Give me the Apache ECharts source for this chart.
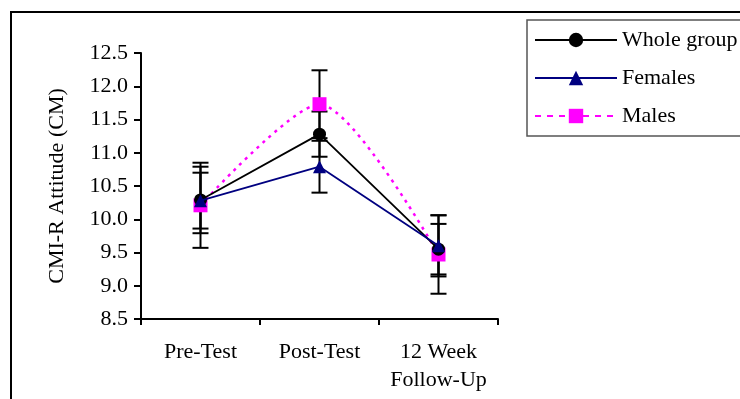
<!DOCTYPE html>
<html>
<head>
<meta charset="utf-8">
<script src="https://cdn.jsdelivr.net/npm/echarts@6/dist/echarts.min.js"></script>
<style>html,body{margin:0;padding:0;background:#fff}#c{width:740px;height:399px}</style>
</head>
<body>
<div id="c"></div>
<script>
const categories = ['Pre-Test', 'Post-Test', '12 Week\nFollow-Up'];
const yTicks = [8.5, 9.0, 9.5, 10.0, 10.5, 11.0, 11.5, 12.0, 12.5];
const wholeMean = [10.29, 11.28, 9.55];
const wholeErr = [0.50, 0.34, 0.38];
const femaleMean = [10.28, 10.79, 9.60];
const femaleErr = [0.42, 0.39, 0.46];
const maleMean = [10.21, 11.73, 9.47];
const maleErr = [0.64, 0.51, 0.59];

const FONT = 'Liberation Serif';
const FS = 22;

function errData(mean, err) {
  return mean.map((m, i) => [i, m - err[i], m + err[i]]);
}
function errSeries(mean, err) {
  return {
    type: 'custom',
    z: 1,
    silent: true,
    data: errData(mean, err),
    encode: { x: 0, y: [1, 2] },
    renderItem: function (params, api) {
      const x = api.value(0);
      const lo = api.coord([x, api.value(1)]);
      const hi = api.coord([x, api.value(2)]);
      const hw = 8;
      const st = { stroke: '#000', lineWidth: 2 };
      return {
        type: 'group',
        children: [
          { type: 'line', shape: { x1: lo[0], y1: lo[1], x2: hi[0], y2: hi[1] }, style: st },
          { type: 'line', shape: { x1: lo[0] - hw, y1: lo[1], x2: lo[0] + hw, y2: lo[1] }, style: st },
          { type: 'line', shape: { x1: hi[0] - hw, y1: hi[1], x2: hi[0] + hw, y2: hi[1] }, style: st }
        ]
      };
    }
  };
}

const chart = echarts.init(document.getElementById('c'));
chart.setOption({
  animation: false,
  backgroundColor: '#fff',
  textStyle: { fontFamily: FONT },
  graphic: [
    { type: 'rect', shape: { x: 11, y: 12, width: 740, height: 400 }, style: { fill: 'none', stroke: '#000', lineWidth: 2 }, z: -10 }
  ],
  grid: { left: 141, right: 242, top: 53, bottom: 80 },
  legend: {
    orient: 'vertical',
    left: 527,
    top: 20,
    padding: [9, 40, 9, 7],
    borderColor: '#555',
    borderWidth: 1.5,
    itemWidth: 82,
    itemHeight: 18,
    itemGap: 16,
    textStyle: { fontFamily: FONT, fontSize: FS, color: '#000' },
    data: [
      { name: 'Whole group' },
      { name: 'Females' },
      { name: 'Males', lineStyle: { type: [6, 6], width: 2 } }
    ]
  },
  xAxis: {
    type: 'category',
    data: categories,
    boundaryGap: true,
    axisLine: { lineStyle: { color: '#000', width: 2 } },
    axisTick: { show: true, interval: 0, length: 6, inside: false, lineStyle: { color: '#000', width: 2 } },
    axisLabel: { interval: 0, hideOverlap: false, color: '#000', fontFamily: FONT, fontSize: FS, margin: 19, lineHeight: 28 },
    splitLine: { show: false }
  },
  yAxis: {
    type: 'value',
    min: 8.5,
    max: 12.5,
    interval: 0.5,
    name: 'CMI-R Attitude (CM)',
    nameLocation: 'middle',
    nameGap: 73,
    nameTextStyle: { color: '#000', fontFamily: FONT, fontSize: FS },
    axisLine: { show: true, lineStyle: { color: '#000', width: 2 } },
    axisTick: { show: true, length: 7, lineStyle: { color: '#000', width: 2 } },
    axisLabel: { color: '#000', fontFamily: FONT, fontSize: FS, margin: 13, formatter: v => v.toFixed(1) },
    splitLine: { show: false }
  },
  series: [
    errSeries(wholeMean, wholeErr),
    errSeries(femaleMean, femaleErr),
    errSeries(maleMean, maleErr),
    {
      name: 'Males', type: 'line', z: 3, data: maleMean, smooth: 0.25,
      symbol: 'rect', symbolSize: 14,
      itemStyle: { color: '#FF00FF' },
      lineStyle: { color: '#FF00FF', width: 2.5, type: [3, 5] }
    },
    {
      name: 'Whole group', type: 'line', z: 4, data: wholeMean,
      symbol: 'circle', symbolSize: 13,
      itemStyle: { color: '#000' },
      lineStyle: { color: '#000', width: 1.8 }
    },
    {
      name: 'Females', type: 'line', z: 5, data: femaleMean,
      symbol: 'triangle', symbolSize: 13,
      itemStyle: { color: '#000080' },
      lineStyle: { color: '#000080', width: 1.8 }
    }
  ]
});
</script>
</body>
</html>
